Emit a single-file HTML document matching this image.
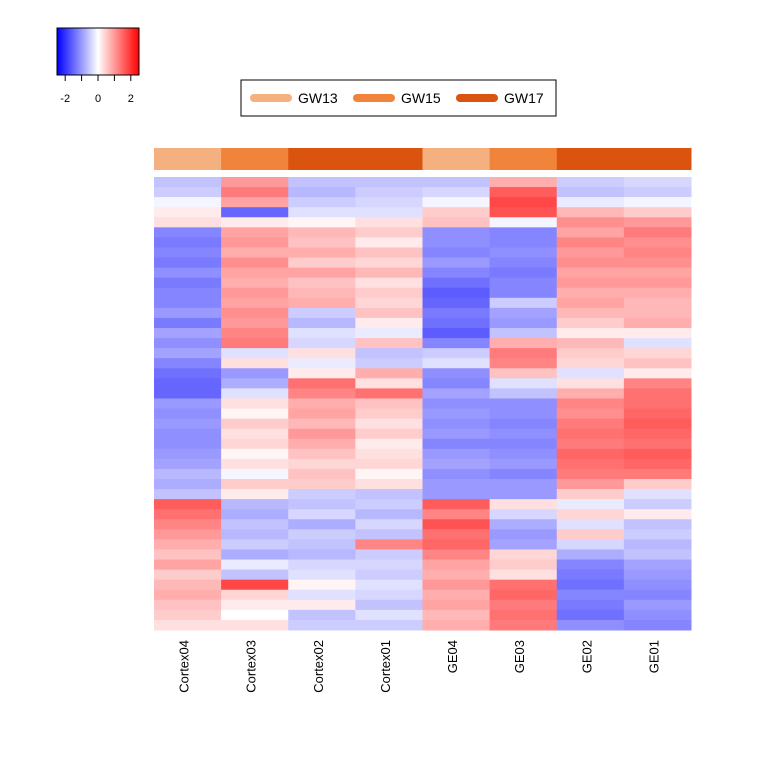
<!DOCTYPE html>
<html><head><meta charset="utf-8"><style>
body{margin:0;background:#fff;}
svg{display:block;font-family:"Liberation Sans",sans-serif;}
</style></head><body>
<svg id="chart" width="768" height="768"></svg>
<script>
const samples=["Cortex04","Cortex03","Cortex02","Cortex01","GE04","GE03","GE02","GE01"];
const stages=["GW13","GW15","GW17","GW17","GW13","GW15","GW17","GW17"];
const stageNames=["GW13","GW15","GW17"];
const stageColors=["#F5B07F","#F0843A","#DA540F"];
const colC04=[-0.6,-0.5,-0.1,0.2,0.3,-1.2,-1.3,-1.2,-1.3,-1.1,-1.3,-1.2,-1.2,-1.0,-1.3,-0.9,-1.1,-0.9,-1.2,-1.4,-1.5,-1.5,-1.0,-1.1,-1.0,-1.1,-1.1,-1.0,-0.9,-0.7,-0.8,-0.6,1.6,1.4,1.2,1.0,0.8,0.6,0.9,0.5,0.7,0.8,0.6,0.5,0.3];
const colC03=[1.0,1.3,0.9,-1.5,0.2,0.9,1.0,0.8,1.1,0.9,0.8,1.0,0.9,1.1,1.0,1.2,1.3,-0.3,0.3,-1.0,-0.8,-0.3,0.3,0.1,0.5,0.3,0.4,0.1,0.3,-0.1,0.5,0.2,-0.7,-0.8,-0.6,-0.7,-0.5,-0.8,-0.2,-0.6,1.8,0.4,0.2,0.0,0.3];
const colC02=[-0.6,-0.7,-0.5,-0.3,0.1,0.7,0.6,0.8,0.5,0.9,0.6,0.7,0.8,-0.5,-0.7,-0.3,-0.4,0.3,-0.2,0.2,1.4,1.2,0.8,0.9,0.7,1.0,0.8,0.6,0.4,0.6,0.5,-0.5,-0.6,-0.4,-0.8,-0.5,-0.6,-0.7,-0.4,-0.3,0.1,-0.3,0.2,-0.6,-0.5];
const colC01=[-0.6,-0.5,-0.4,-0.3,0.3,0.5,0.2,0.6,0.4,0.7,0.3,0.5,0.4,0.6,0.2,-0.2,0.6,-0.6,-0.5,0.8,0.3,1.4,0.6,0.5,0.3,0.5,0.2,0.3,0.4,0.1,0.3,-0.6,-0.5,-0.7,-0.4,-0.6,1.2,-0.5,-0.4,-0.5,-0.3,-0.4,-0.6,-0.3,-0.5];
const colGE04=[-0.6,-0.4,-0.1,0.5,0.6,-1.1,-1.1,-1.2,-1.0,-1.2,-1.4,-1.6,-1.5,-1.3,-1.4,-1.6,-1.2,-0.5,-0.3,-1.1,-1.2,-0.9,-1.1,-1.0,-1.1,-1.0,-1.2,-1.0,-0.9,-1.1,-1.0,-1.0,1.6,1.2,1.7,1.4,1.5,1.2,0.9,0.8,1.0,0.8,0.9,0.7,0.8];
const colGE03=[0.8,1.6,1.8,1.7,-0.1,-1.2,-1.2,-1.1,-1.2,-1.3,-1.2,-1.2,-0.5,-0.9,-1.0,-0.6,0.8,1.3,1.2,0.6,-0.3,-0.6,-1.1,-1.1,-1.2,-1.1,-1.2,-1.1,-1.0,-1.2,-1.0,-1.0,0.3,-0.4,-0.8,-1.0,-0.9,0.4,0.5,0.3,1.4,1.5,1.3,1.4,1.3];
const colGE02=[-0.5,-0.6,-0.2,0.7,1.1,0.9,1.2,1.0,1.1,0.9,1.0,0.8,0.9,0.7,0.5,0.2,0.7,0.5,0.4,-0.3,0.3,0.8,1.2,1.1,1.3,1.4,1.3,1.5,1.4,1.3,1.0,0.5,-0.2,0.4,-0.3,0.5,-0.4,-0.8,-1.2,-1.3,-1.4,-1.2,-1.3,-1.4,-1.1];
const colGE01=[-0.4,-0.5,-0.1,0.5,1.0,1.3,1.1,1.2,1.1,0.9,1.0,0.8,0.7,0.7,0.8,0.2,-0.3,0.4,0.6,0.2,1.2,1.4,1.4,1.5,1.6,1.5,1.4,1.6,1.5,1.3,0.5,-0.3,-0.5,0.2,-0.6,-0.5,-0.7,-0.6,-0.9,-1.0,-1.1,-1.2,-1.0,-1.1,-1.2];
const keyTicks=[-2,-1,0,1,2];
const keyLabels=[-2,0,2];

const matrix=[colC04,colC03,colC02,colC01,colGE04,colGE03,colGE02,colGE01];
const NS="http://www.w3.org/2000/svg";
const svg=document.getElementById("chart");
function mk(tag,attrs,parent){const e=document.createElementNS(NS,tag);for(const k in attrs)e.setAttribute(k,attrs[k]);(parent||svg).appendChild(e);return e;}
const X0=154,X1=691,Y0=177,Y1=630;
const nRows=colC04.length;
const colW=(X1-X0)/samples.length;
function xCol(i){return X0+i*colW;}
function yRow(r){return Y0+r*(Y1-Y0)/nRows;}
function color(v){const t=Math.max(-1,Math.min(1,v/2.5));
 if(t<0){const c=Math.round(255*(1+t));return `rgb(${c},${c},255)`;}
 const c=Math.round(255*(1-t));return `rgb(255,${c},${c})`;}

stages.forEach((s,i)=>{
 const r=mk("rect",{x:xCol(i),y:148,width:colW+0.5,height:22,fill:stageColors[stageNames.indexOf(s)]});
 
 
});
const g=mk("g",{});


matrix.forEach((col,i)=>{col.forEach((v,r)=>{
 const c=mk("rect",{x:xCol(i),y:yRow(r),width:colW+0.5,height:(Y1-Y0)/nRows+0.5,fill:color(v)},g);
 
 
});});
samples.forEach((s,i)=>{
 const cx=xCol(i)+colW/2+1;
 const t=mk("text",{x:0,y:0,transform:`translate(${cx},640) rotate(-90)`,"text-anchor":"end","font-size":"13",fill:"#000"});
 t.textContent=s;
 
 
});
const defs=mk("defs",{});
const lg=mk("linearGradient",{id:"kg",x1:"0",x2:"1",y1:"0",y2:"0"},defs);
[[0,"#0000ff"],[0.5,"#ffffff"],[1,"#ff0000"]].forEach(([o,c])=>mk("stop",{offset:o,"stop-color":c},lg));
const KX0=57,KX1=139;
function kx(v){return KX0+(v+2.5)/5*(KX1-KX0);}
const key=mk("rect",{x:KX0,y:28,width:KX1-KX0,height:47,fill:"url(#kg)",stroke:"#000","stroke-width":1});


keyTicks.forEach(v=>{const l=mk("line",{x1:kx(v),x2:kx(v),y1:75,y2:81,stroke:"#000"});
 
 });
keyLabels.forEach(v=>{const t=mk("text",{x:kx(v),y:102,"text-anchor":"middle","font-size":"11"});t.textContent=v;
 
 });
const lb=mk("rect",{x:241,y:80,width:315,height:36,fill:"#fff",stroke:"#000"});


const lx=[254,357,460];
stageNames.forEach((s,i)=>{
 const l=mk("line",{x1:lx[i],x2:lx[i]+34,y1:98,y2:98,stroke:stageColors[i],"stroke-width":8,"stroke-linecap":"round"});
 
 
 const t=mk("text",{x:lx[i]+44,y:103,"font-size":"14"});t.textContent=s;
 
 
});
</script>
</body></html>
